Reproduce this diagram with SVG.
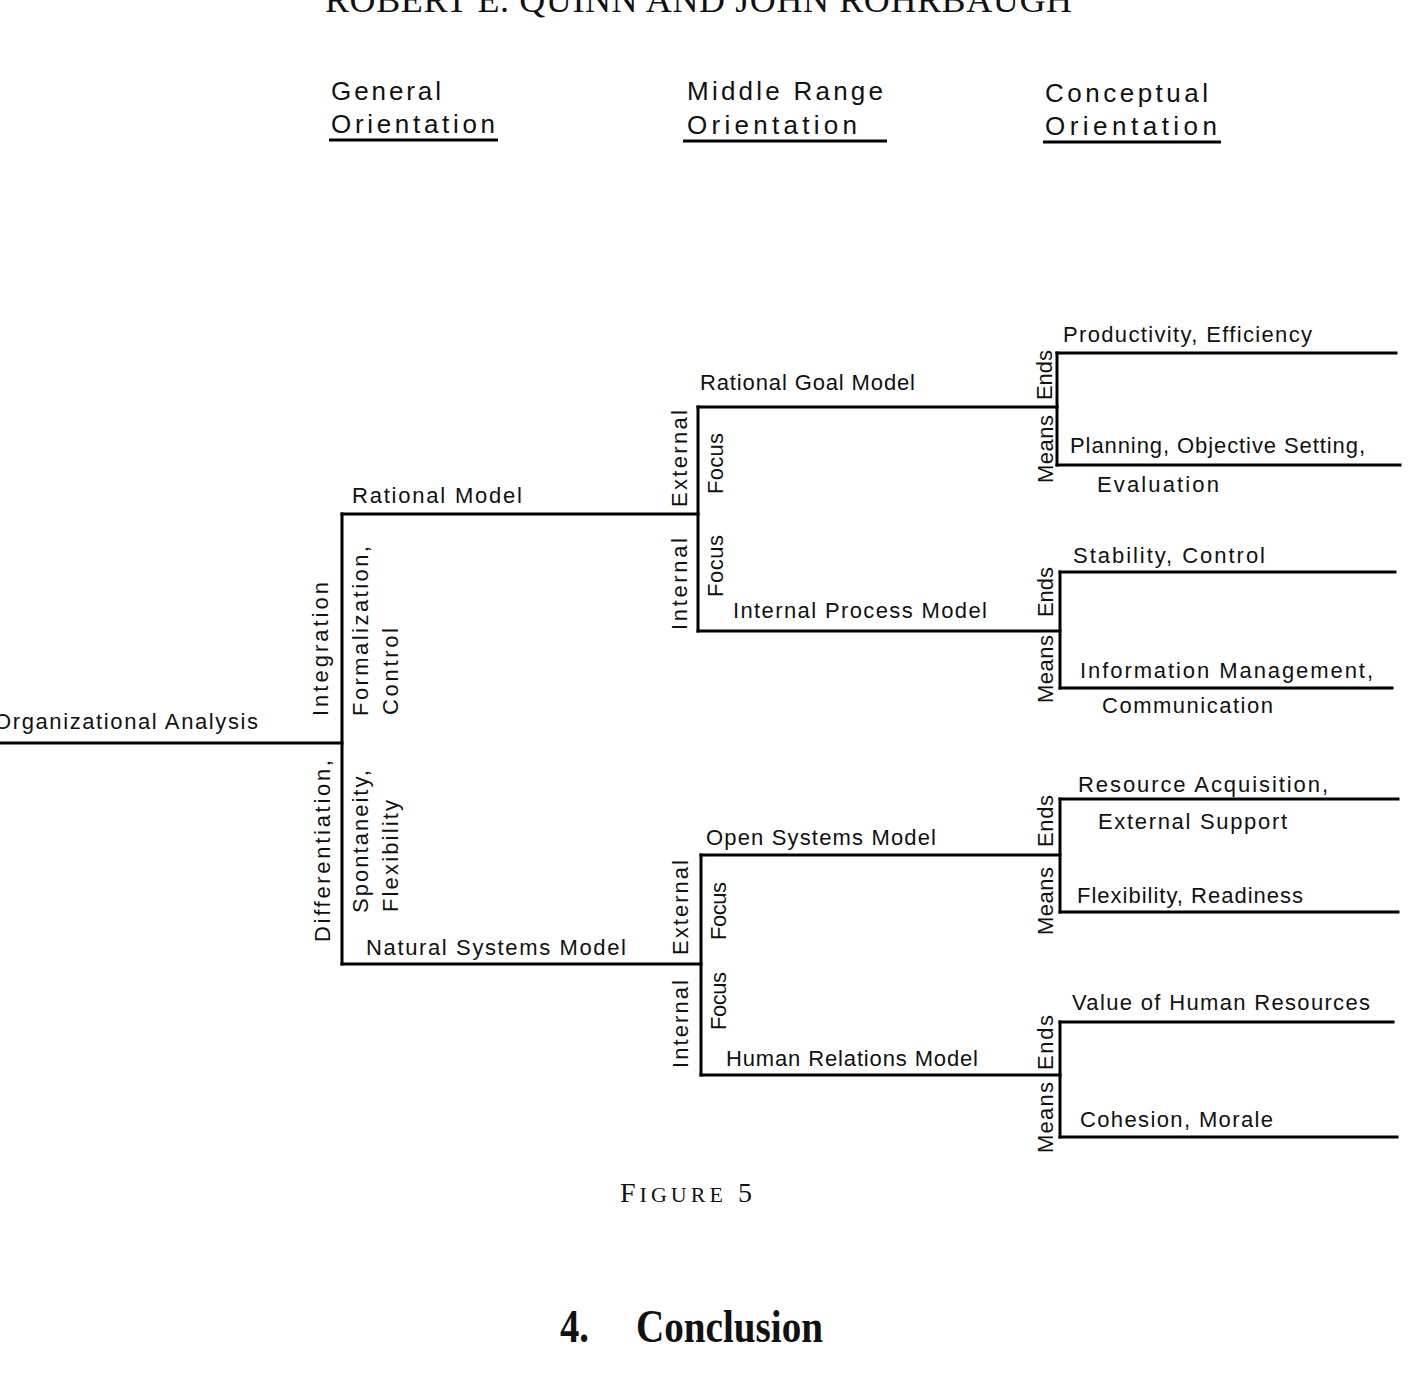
<svg xmlns="http://www.w3.org/2000/svg" width="1409" height="1375" viewBox="0 0 1409 1375">
<style>
.bg{fill:#ffffff}
.ln{stroke:#000;stroke-width:3;fill:none;stroke-linecap:square}
.ul{stroke:#000;stroke-width:3;fill:none}
.t{font-family:"Liberation Sans","DejaVu Sans",sans-serif;font-size:22px;fill:#111}
.h{font-family:"Liberation Sans","DejaVu Sans",sans-serif;font-size:26px;fill:#111}
.s{font-family:"Liberation Serif","Times New Roman",serif;fill:#111}
</style>
<rect class="bg" x="0" y="0" width="1409" height="1375"/>

<g id="running-head">
<text class="s" x="325" y="12" font-size="36" textLength="747">ROBERT E. QUINN AND JOHN ROHRBAUGH</text>
</g>

<g id="column-headers">
<text class="h" x="331" y="100" textLength="110">General</text>
<text class="h" x="331" y="133" textLength="164">Orientation</text>
<line class="ul" x1="329" y1="140" x2="498" y2="140"/>
<text class="h" x="687" y="100" textLength="196">Middle Range</text>
<text class="h" x="687" y="134" textLength="170">Orientation</text>
<line class="ul" x1="683" y1="141" x2="887" y2="141"/>
<text class="h" x="1045" y="102" textLength="163">Conceptual</text>
<text class="h" x="1045" y="135" textLength="172">Orientation</text>
<line class="ul" x1="1043" y1="142" x2="1221" y2="142"/>
</g>

<g id="connectors">
<!-- root -->
<line class="ln" x1="0" y1="743" x2="342" y2="743"/>
<line class="ln" x1="342" y1="514" x2="342" y2="964"/>
<line class="ln" x1="342" y1="514" x2="698" y2="514"/>
<line class="ln" x1="342" y1="964" x2="701" y2="964"/>
<!-- rational -->
<line class="ln" x1="698" y1="407" x2="698" y2="631"/>
<line class="ln" x1="698" y1="407" x2="1057" y2="407"/>
<line class="ln" x1="698" y1="631" x2="1060" y2="631"/>
<!-- natural -->
<line class="ln" x1="701" y1="855" x2="701" y2="1075"/>
<line class="ln" x1="701" y1="855" x2="1060" y2="855"/>
<line class="ln" x1="701" y1="1075" x2="1060" y2="1075"/>
<!-- rational goal ends/means -->
<line class="ln" x1="1057" y1="353" x2="1057" y2="465"/>
<line class="ln" x1="1057" y1="353" x2="1396" y2="353"/>
<line class="ln" x1="1057" y1="465" x2="1400" y2="465"/>
<!-- internal process -->
<line class="ln" x1="1060" y1="572" x2="1060" y2="688"/>
<line class="ln" x1="1060" y1="572" x2="1395" y2="572"/>
<line class="ln" x1="1060" y1="688" x2="1392" y2="688"/>
<!-- open systems -->
<line class="ln" x1="1060" y1="799" x2="1060" y2="912"/>
<line class="ln" x1="1060" y1="799" x2="1398" y2="799"/>
<line class="ln" x1="1060" y1="912" x2="1398" y2="912"/>
<!-- human relations -->
<line class="ln" x1="1060" y1="1022" x2="1060" y2="1137"/>
<line class="ln" x1="1060" y1="1022" x2="1393" y2="1022"/>
<line class="ln" x1="1060" y1="1137" x2="1397" y2="1137"/>
</g>

<g id="node-organizational-analysis">
<text class="t" x="-6" y="729" textLength="264">Organizational Analysis</text>
<text class="t" transform="translate(328,716) rotate(-90)" textLength="134">Integration</text>
<text class="t" transform="translate(330,942) rotate(-90)" textLength="182">Differentiation,</text>
</g>

<g id="node-rational-model">
<text class="t" x="352" y="503" textLength="170">Rational Model</text>
<text class="t" transform="translate(368,716) rotate(-90)" textLength="170">Formalization,</text>
<text class="t" transform="translate(398,715) rotate(-90)" textLength="87">Control</text>
<text class="t" transform="translate(687,507) rotate(-90)" textLength="97">External</text>
<text class="t" transform="translate(723,494) rotate(-90)" textLength="61">Focus</text>
<text class="t" transform="translate(687,630) rotate(-90)" textLength="92">Internal</text>
<text class="t" transform="translate(723,597) rotate(-90)" textLength="62">Focus</text>
</g>

<g id="node-natural-systems-model">
<text class="t" x="366" y="955" textLength="260">Natural Systems Model</text>
<text class="t" transform="translate(368,913) rotate(-90)" textLength="143">Spontaneity,</text>
<text class="t" transform="translate(398,912) rotate(-90)" textLength="112">Flexibility</text>
<text class="t" transform="translate(688,955) rotate(-90)" textLength="95">External</text>
<text class="t" transform="translate(726,940) rotate(-90)" textLength="58">Focus</text>
<text class="t" transform="translate(688,1068) rotate(-90)" textLength="88">Internal</text>
<text class="t" transform="translate(726,1030) rotate(-90)" textLength="58">Focus</text>
</g>

<g id="node-rational-goal-model">
<text class="t" x="700" y="390" textLength="215">Rational Goal Model</text>
<text class="t" transform="translate(1052,400) rotate(-90)" textLength="50">Ends</text>
<text class="t" transform="translate(1053,483) rotate(-90)" textLength="68">Means</text>
</g>

<g id="node-internal-process-model">
<text class="t" x="733" y="618" textLength="254">Internal Process Model</text>
<text class="t" transform="translate(1053,617) rotate(-90)" textLength="50">Ends</text>
<text class="t" transform="translate(1053,703) rotate(-90)" textLength="68">Means</text>
</g>

<g id="node-open-systems-model">
<text class="t" x="706" y="845" textLength="230">Open Systems Model</text>
<text class="t" transform="translate(1053,847) rotate(-90)" textLength="52">Ends</text>
<text class="t" transform="translate(1053,935) rotate(-90)" textLength="68">Means</text>
</g>

<g id="node-human-relations-model">
<text class="t" x="726" y="1066" textLength="252">Human Relations Model</text>
<text class="t" transform="translate(1053,1070) rotate(-90)" textLength="55">Ends</text>
<text class="t" transform="translate(1053,1153) rotate(-90)" textLength="71">Means</text>
</g>

<g id="node-productivity">
<text class="t" x="1063" y="342" textLength="249">Productivity, Efficiency</text>
</g>
<g id="node-planning">
<text class="t" x="1070" y="453" textLength="295">Planning, Objective Setting,</text>
<text class="t" x="1097" y="492" textLength="122">Evaluation</text>
</g>
<g id="node-stability">
<text class="t" x="1073" y="563" textLength="192">Stability, Control</text>
</g>
<g id="node-information">
<text class="t" x="1080" y="678" textLength="293">Information Management,</text>
<text class="t" x="1102" y="713" textLength="171">Communication</text>
</g>
<g id="node-resource">
<text class="t" x="1078" y="792" textLength="250">Resource Acquisition,</text>
<text class="t" x="1098" y="829" textLength="189">External Support</text>
</g>
<g id="node-flexibility">
<text class="t" x="1077" y="903" textLength="226">Flexibility, Readiness</text>
</g>
<g id="node-value">
<text class="t" x="1072" y="1010" textLength="298">Value of Human Resources</text>
</g>
<g id="node-cohesion">
<text class="t" x="1080" y="1127" textLength="193">Cohesion, Morale</text>
</g>

<g id="caption">
<text class="s" x="620" y="1202" font-size="28" textLength="132">F<tspan font-size="22">IGURE</tspan> 5</text>
</g>

<g id="heading">
<text class="s" x="560" y="1342" font-size="46" font-weight="bold" textLength="29" lengthAdjust="spacingAndGlyphs">4.</text>
<text class="s" x="636" y="1342" font-size="46" font-weight="bold" textLength="187" lengthAdjust="spacingAndGlyphs">Conclusion</text>
</g>
</svg>
